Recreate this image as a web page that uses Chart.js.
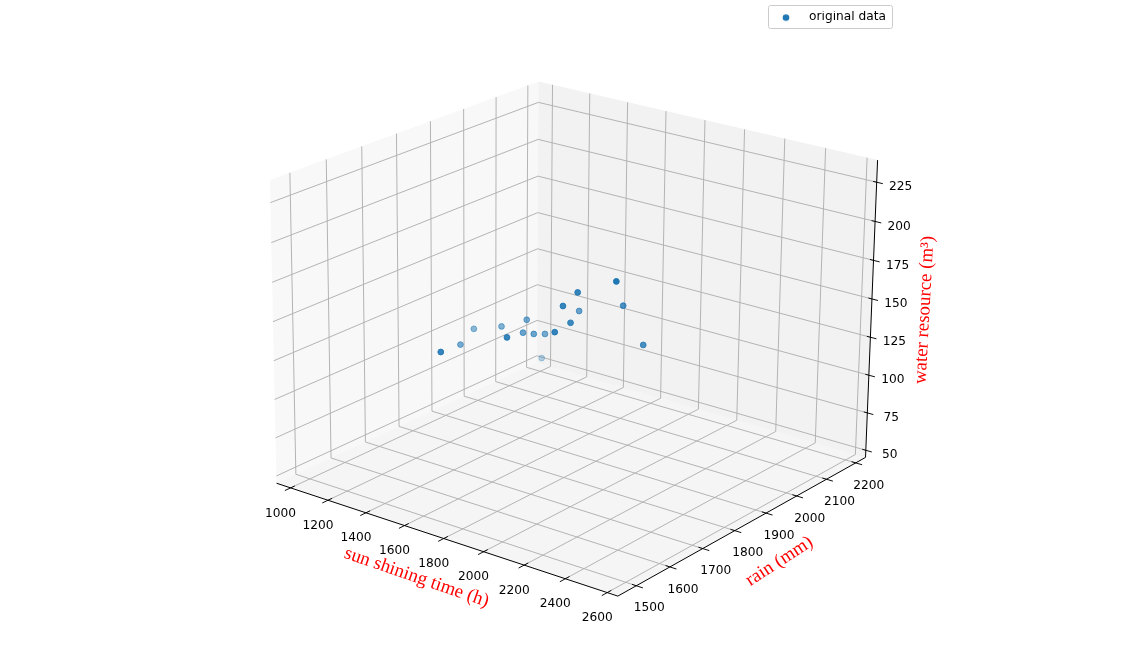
<!DOCTYPE html>
<html><head><meta charset="utf-8"><style>html,body{margin:0;padding:0;background:#fff}canvas{display:block}</style>
<script src="https://cdn.jsdelivr.net/npm/chart.js@4"></script></head>
<body><canvas id="c" width="1134" height="664"></canvas>
<script>
const sunTicks=[1000,1200,1400,1600,1800,2000,2200,2400,2600];
const rainTicks=[1500,1600,1700,1800,1900,2000,2100,2200];
const waterTicks=[50,75,100,125,150,175,200,225];
const sun=[1254,1058,1006,1139,1458,1259,1299,1336,1333,1609,1099,1612,1612,1468,1649,1845,1729,1830];
const rain=[1744,1913,1984,1994,1826,2003,1968,1980,2017,1883,2146,1930,1906,2044,1929,1929,2024,2027];
const water=[113.1,94.3,96.2,101.6,122,109.5,105.6,104.9,101.2,125.3,63.5,127,140.3,118.8,148.3,162.2,133.4,110.7];
const sunLim=[924,2650],rainLim=[1446,2234],waterLim=[45.2,239];
const P=[299.30816,308.63615,-15.07322,276.53307,72.33074,-88.14015,-308.80855,483.24873,-0.06798,0.08988,-0.03123];
const nx=s=>(s-sunLim[0])/(sunLim[1]-sunLim[0]),ny=s=>(s-rainLim[0])/(rainLim[1]-rainLim[0]),nz=s=>(s-waterLim[0])/(waterLim[1]-waterLim[0]);
function pn(x,y,z){const w=P[8]*x+P[9]*y+P[10]*z+1;return {x:(P[0]*x+P[1]*y+P[2]*z+P[3])/w,y:(P[4]*x+P[5]*y+P[6]*z+P[7])/w,w};}
const pts=sun.map((s,i)=>pn(nx(s),ny(rain[i]),nz(water[i])));
const wmin=Math.min(...pts.map(p=>p.w)),wmax=Math.max(...pts.map(p=>p.w));
const cols=pts.map(p=>`rgba(31,119,180,${1-.7*(p.w-wmin)/(wmax-wmin)})`);
const gap={x:NaN,y:NaN};
const L=a=>a.map(q=>q===null?gap:pn(q[0],q[1],q[2]));
const sg=[],rg=[],wg=[],tk=[];
sunTicks.forEach(t=>{const x=nx(t);sg.push([x,0,0],[x,1,0],[x,1,1],null);tk.push([x,-.02,0],[x,.015,0],null);});
rainTicks.forEach(t=>{const y=ny(t);rg.push([1,y,0],[0,y,0],[0,y,1],null);tk.push([1.018,y,0],[.988,y,0],null);});
waterTicks.forEach(t=>{const z=nz(t);wg.push([1,1,z],[0,1,z],[0,0,z],null);tk.push([.99,1,z],[1.017,1,z],null);});
const line=(data,c,w,extra)=>Object.assign({type:'line',data:L(data),borderColor:c,borderWidth:w,pointRadius:0,fill:false,tension:0,clip:false,borderCapStyle:'butt'},extra||{});
const pane=(data,c)=>line(data,'rgba(0,0,0,0)',0,{backgroundColor:c,fill:'shape'});
const datasets=[
{type:'scatter',label:'original data',data:pts.map(p=>({x:p.x,y:p.y})),backgroundColor:'#1f77b4',pointBackgroundColor:cols,pointBorderColor:cols,pointBorderWidth:1,pointRadius:2.9,clip:false},
line([[0,0,0],[1,0,0],[1,1,0],[1,1,1]],'#000',1),
line(tk,'#000',.95),
line(sg,'#b0b0b0',.95),line(rg,'#b0b0b0',.95),line(wg,'#b0b0b0',.95),
pane([[0,0,0],[0,1,0],[0,1,1],[0,0,1],[0,0,0]],'rgba(242,242,242,.5)'),
pane([[0,1,0],[1,1,0],[1,1,1],[0,1,1],[0,1,0]],'rgba(230,230,230,.5)'),
pane([[0,0,0],[1,0,0],[1,1,0],[0,1,0],[0,0,0]],'rgba(236,236,236,.5)')
];
const marker=document.createElement('canvas');marker.width=10;marker.height=10;
(()=>{const m=marker.getContext('2d');m.fillStyle='#1f77b4';m.beginPath();m.arc(5,5.5,3.3,0,7);m.fill();})();
const tickFont='12.2px "DejaVu Sans"';
const labels={id:'labels',
afterLayout(ch){const l=ch.legend;if(l){l.left=769;l.right=892;l.top=11;l.bottom=25;l.width=123;l.height=14;}},
beforeDraw(ch){const c=ch.ctx;c.save();c.fillStyle='#fff';c.strokeStyle='#ccc';c.lineWidth=1;c.beginPath();c.roundRect(768.5,5.5,124,23,2);c.fill();c.stroke();c.restore();},
afterDraw(ch){const c=ch.ctx,X=ch.scales.x,Y=ch.scales.y;c.save();c.textAlign='center';c.textBaseline='middle';c.fillStyle='#000';c.font=tickFont;
const T=(s,p,dx,dy)=>c.fillText(s,X.getPixelForValue(p.x)+dx,Y.getPixelForValue(p.y)+dy);
sunTicks.forEach(t=>T(t,pn(nx(t),0,0),-10,25.5));rainTicks.forEach(t=>T(t,pn(1,ny(t),0),13,22.5));waterTicks.forEach(t=>T(t,pn(1,1,nz(t)),24,5));
c.fillStyle='#f00';c.font='18.9px "Liberation Serif"';
const R=(s,x,y,a)=>{c.save();c.translate(x,y);c.rotate(a*Math.PI/180);c.fillText(s,0,0);c.restore();};
R('sun shining time (h)',416.5,577.5,19);R('rain (mm)',779.5,561.5,-33);R('water resource (m³)',924.5,310,-87);
c.restore();}};
new Chart(document.getElementById('c'),{type:'scatter',data:{datasets},plugins:[labels],options:{responsive:false,animation:false,devicePixelRatio:1,layout:{padding:0,autoPadding:false},
plugins:{legend:{display:true,position:'chartArea',align:'start',labels:{usePointStyle:true,pointStyle:'circle',pointStyleWidth:34,boxHeight:5,padding:0,color:'#000',font:{family:'DejaVu Sans',size:12.2},
generateLabels:()=>[{text:'original data',fillStyle:'#1f77b4',strokeStyle:'#1f77b4',lineWidth:0,pointStyle:marker,datasetIndex:0}]}},tooltip:{enabled:false}},
scales:{x:{type:'linear',min:0,max:1134,display:false},y:{type:'linear',min:0,max:664,reverse:true,display:false}}}});
</script></body></html>
